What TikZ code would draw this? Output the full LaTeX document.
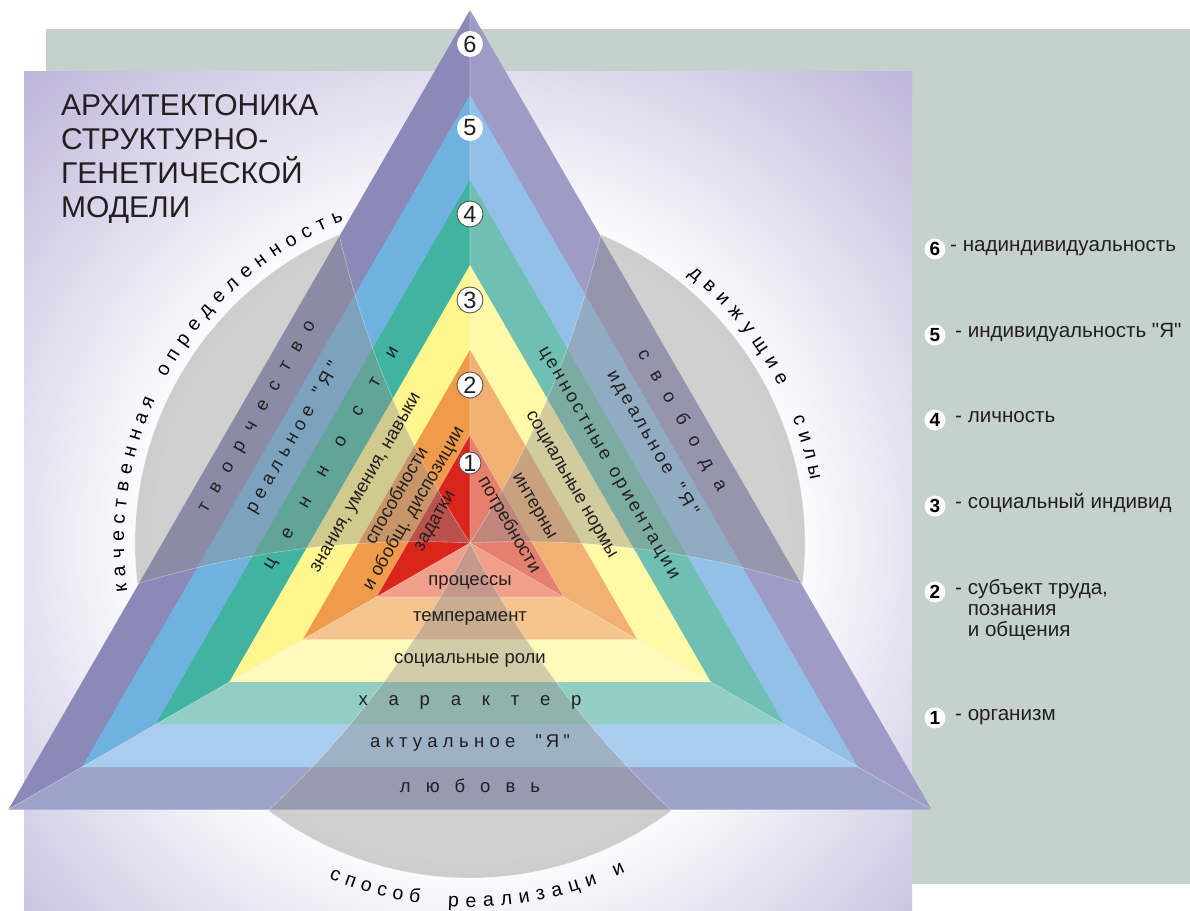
\documentclass[tikz,border=0pt]{standalone}
\usepackage{fontspec}
\newfontfamily\lib{Liberation Sans}
\usetikzlibrary{calc,decorations.text}

% letter-spaced text: \spaced{gap}{text}
\ExplSyntaxOn
\NewDocumentCommand \spaced { m m }
  { \str_map_inline:nn {#2} { ##1 \hspace{#1} } \unskip }
\ExplSyntaxOff

\definecolor{bgsage}{HTML}{C4D1CD}
\definecolor{bglav}{HTML}{B9B1D8}
\definecolor{ink}{HTML}{231F20}
\definecolor{numring}{HTML}{55554A}
% band colours: left / right / bottom sector
\definecolor{sixL}{HTML}{8A89B8}\definecolor{sixR}{HTML}{9E9BC6}\definecolor{sixB}{HTML}{9DA3C8}
\definecolor{fiveL}{HTML}{6FB1DF}\definecolor{fiveR}{HTML}{93C0E8}\definecolor{fiveB}{HTML}{A9CDEE}
\definecolor{fourL}{HTML}{40B4A0}\definecolor{fourR}{HTML}{6FC0B3}\definecolor{fourB}{HTML}{93CEC5}
\definecolor{threeL}{HTML}{FFF68F}\definecolor{threeR}{HTML}{FFF9A8}\definecolor{threeB}{HTML}{FFFABB}
\definecolor{twoL}{HTML}{F09A4B}\definecolor{twoR}{HTML}{F2B173}\definecolor{twoB}{HTML}{F5C48F}
\definecolor{oneL}{HTML}{DA251D}\definecolor{oneR}{HTML}{E6806E}\definecolor{oneB}{HTML}{EF9F8A}

% 25bp of this shading spans the radius of the shaded circle
\pgfdeclareradialshading{glow}{\pgfpoint{0bp}{0bp}}{color(0bp)=(white); color(9bp)=(white); color(19bp)=(bglav); color(50bp)=(bglav)}

\newcommand\arcfont{\lib\fontsize{19.5}{22}\selectfont}

\begin{document}
\begin{tikzpicture}[x=1pt,y=1pt,
  lbl/.style={font=\lib\fontsize{18.5}{21}\selectfont, text=ink, inner sep=0pt, anchor=mid},
  leftlbl/.style={lbl, rotate=60},
  rightlbl/.style={lbl, rotate=-60},
  apexnum/.style={circle, fill=white, inner sep=0pt, minimum size=26pt, font=\lib\fontsize{23.5}{23.5}\selectfont, text=ink},
  ringed/.style={draw=numring, line width=0.9pt},
  legnum/.style={circle, fill=white, inner sep=0pt, minimum size=21pt, font=\lib\bfseries\fontsize{19}{19}\selectfont, text=black},
  legtext/.style={font=\lib\fontsize{20.6}{22}\selectfont, text=ink, inner sep=0pt, anchor=mid west},
  titleline/.style={font=\lib\fontsize{30}{34}\selectfont, text=ink, inner sep=0pt, anchor=base west},
  veil/.style={fill=black!44, fill opacity=0.42, draw=white, draw opacity=0.4, line width=0.6pt},
  spoke/.style={draw=white, draw opacity=0.35, line width=0.6pt},
  arctext/.style={decorate, decoration={text along path, text align={fit to path}, text={|\arcfont|#1}}},
]
\useasboundingbox (0,0) rectangle (1190,910);

\coordinate (C) at (470,367);

% backgrounds
\fill[bgsage] (46,26) rectangle (1190,881);
\begin{scope}
  \clip (24,0) rectangle (912,838);
  \shade[shading=glow] (C) circle[radius=875pt];
\end{scope}

% nested triangles, each split into three sectors at the centre
\foreach \k/\R/\cL/\cR/\cB in {6/533/sixL/sixR/sixB, 5/448/fiveL/fiveR/fiveB,
    4/363/fourL/fourR/fourB, 3/278/threeL/threeR/threeB,
    2/193/twoL/twoR/twoB, 1/108/oneL/oneR/oneB} {
  \coordinate (A\k) at ($(C)+(90:\R pt)$);
  \coordinate (L\k) at ($(C)+(210:\R pt)$);
  \coordinate (R\k) at ($(C)+(330:\R pt)$);
  \fill[fill=\cL] (C) -- (A\k) -- (L\k) -- cycle;
  \fill[fill=\cR] (C) -- (A\k) -- (R\k) -- cycle;
  \fill[fill=\cB] (C) -- (L\k) -- (R\k) -- cycle;
}
\draw[spoke] (C) -- (A6) (C) -- (L6) (C) -- (R6);
\draw[spoke] (A1) -- (L1) -- (R1) -- cycle;

% three translucent grey sectors of the circle
\foreach \ph [count=\i] in {150,270,30} {
  \coordinate (va\i) at ($(C)+(\ph-37:335pt)$);
  \coordinate (vb\i) at ($(C)+(\ph+37:335pt)$);
  \coordinate (vp\i) at ($(C)+(\ph-27:170pt)$);
  \coordinate (vq\i) at ($(C)+(\ph+27:170pt)$);
  \path[veil] (C) .. controls ($(C)!2/3!(vp\i)$) and ($(va\i)!2/3!(vp\i)$) .. (va\i)
      arc[start angle=\ph-37, end angle=\ph+37, radius=335pt]
      .. controls ($(vb\i)!2/3!(vq\i)$) and ($(C)!2/3!(vq\i)$) .. (C) -- cycle;
}

% left side labels
\node[leftlbl] (lt6) at ($(C)+(150:245pt)+(60:3pt)$) {\spaced{13.5pt}{творчество}};
\node[leftlbl] (lt5) at ($(C)+(150:203pt)+(60:3pt)$) {\spaced{5.5pt}{реальное}\hspace{14pt}\spaced{5pt}{"Я"}};
\node[leftlbl] (lt4) at ($(C)+(150:160pt)+(60:4pt)$) {\spaced{25pt}{ценности}};
\node[leftlbl] (lt3) at ($(C)+(150:118pt)+(60:0pt)$) {знания, умения, навыки};
\node[leftlbl] (lt2a) at ($(C)+(150:84pt)+(60:4.5pt)$) {способности};
\node[leftlbl] (lt2b) at ($(C)+(150:63pt)+(60:1.6pt)$) {и обобщ. диспозиции};
\node[leftlbl] (lt1) at ($(C)+(150:39pt)+(60:1.5pt)$) {задатки};

% right side labels
\node[rightlbl] (rt6) at ($(C)+(30:242pt)$) {\spaced{15pt}{свобода}};
\node[rightlbl] (rt5) at ($(C)+(30:205pt)+(-60:5pt)$) {\spaced{3pt}{идеальное}\hspace{14pt}\spaced{4pt}{"Я"}};
\node[rightlbl] (rt4) at ($(C)+(30:158pt)$) {\spaced{2.8pt}{ценностные ориентации}};
\node[rightlbl] (rt3) at ($(C)+(30:115pt)$) {социальные нормы};
\node[rightlbl] (rt2) at ($(C)+(30:72pt)$) {интерны};
\node[rightlbl] (rt1) at ($(C)+(30:40pt)+(-60:4pt)$) {потребности};

% bottom labels
\node[lbl] (bt1) at ($(C)+(0,-40)$) {процессы};
\node[lbl] (bt2) at ($(C)+(0,-76)$) {темперамент};
\node[lbl] (bt3) at ($(C)+(0,-118)$) {социальные роли};
\node[lbl] (bt4) at ($(C)+(0,-160)$) {\spaced{20.8pt}{характер}};
\node[lbl] (bt5) at ($(C)+(0,-202)$) {\spaced{5.3pt}{актуальное}\hspace{20pt}\spaced{4pt}{"Я"}};
\node[lbl] (bt6) at ($(C)+(0,-247)$) {\spaced{15pt}{любовь}};

% level numbers on the axis
\node[apexnum] (n6) at (470,866) {6};
\node[apexnum] (n5) at (470,782) {5};
\node[apexnum, ringed] (n4) at (470,696) {4};
\node[apexnum, ringed] (n3) at (470,610) {3};
\node[apexnum, ringed] (n2) at (470,525) {2};
\node[apexnum, ringed, minimum size=22pt] (n1) at (470,447) {1};

% texts along the circle, one arc per word
\path[arctext={качественная}] ($(C)+(188:346pt)$) arc[start angle=188, end angle=155.5, radius=346pt];
\path[arctext={определенность}] ($(C)+(151.5:346pt)$) arc[start angle=151.5, end angle=111.4, radius=346pt];
\path[arctext={движущие}] ($(C)+(51:346pt)$) arc[start angle=51, end angle=26.9, radius=346pt];
\path[arctext={силы}] ($(C)+(21.2:346pt)$) arc[start angle=21.2, end angle=10.4, radius=346pt];
\path[arctext={способ}] ($(C)+(247.2:364pt)$) arc[start angle=247.2, end angle=262, radius=364pt];
\path[arctext={реализаци и}] ($(C)+(266.5:364pt)$) arc[start angle=266.5, end angle=295.3, radius=364pt];

% title
\node[titleline] (ti1) at (61,794) {АРХИТЕКТОНИКА};
\node[titleline] (ti2) at (61,760) {СТРУКТУРНО-};
\node[titleline] (ti3) at (61,726) {ГЕНЕТИЧЕСКОЙ};
\node[titleline] (ti4) at (61,692) {МОДЕЛИ};

% legend
\node[legnum] (k6) at (935,661) {6};
\node[legtext] (t6) at (950,661) {- надиндивидуальность};
\node[legnum] (k5) at (935,575) {5};
\node[legtext] (t5) at (955,575) {- индивидуальность "Я"};
\node[legnum] (k4) at (935,490) {4};
\node[legtext] (t4) at (955,490) {- личность};
\node[legnum] (k3) at (935,404) {3};
\node[legtext] (t3) at (955,404) {- социальный индивид};
\node[legnum] (k2) at (935,318) {2};
\node[legtext] (t2a) at (955,318) {- субъект труда,};
\node[legtext] (t2b) at (955,297) {\hphantom{- }познания};
\node[legtext] (t2c) at (955,276) {\hphantom{- }и общения};
\node[legnum] (k1) at (935,192) {1};
\node[legtext] (t1) at (955,192) {- организм};
\end{tikzpicture}
\end{document}
